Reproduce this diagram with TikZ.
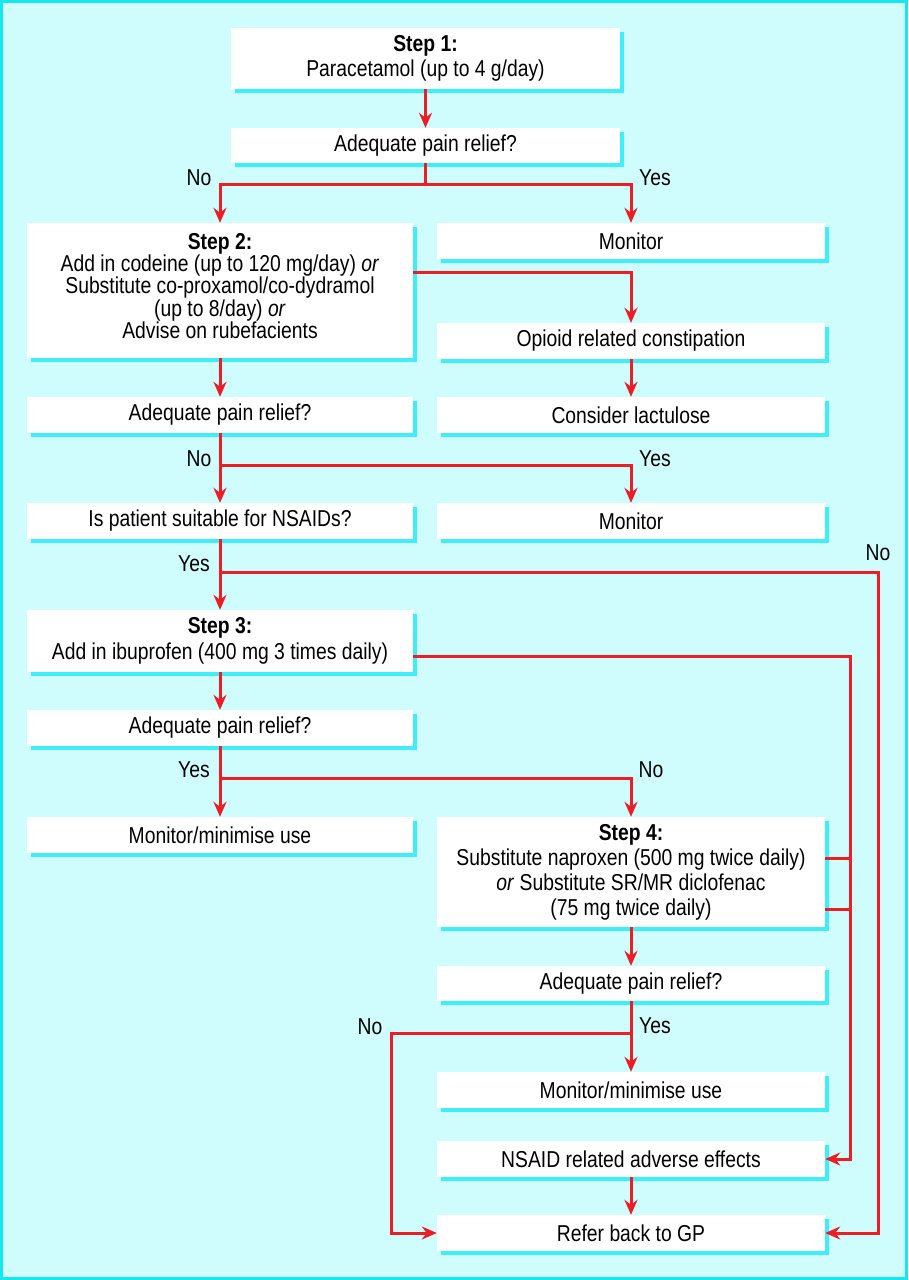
\documentclass[tikz,border=0pt]{standalone}
\usepackage{fontspec}
\setmainfont{Liberation Sans}[FakeStretch=0.84]
\usetikzlibrary{arrows.meta,shadows,calc}
\definecolor{bgc}{HTML}{CFFCFC}
\definecolor{bordc}{HTML}{18E6F0}
\definecolor{shc}{HTML}{40EEF8}
\definecolor{redc}{HTML}{EE1C24}
\tikzset{
  box/.style={fill=white, inner sep=0pt, align=center, minimum width=388pt, minimum height=36pt,
    font=\fontsize{23}{23.5}\selectfont,
    drop shadow={shadow xshift=4pt, shadow yshift=-4pt, fill=shc, opacity=1}},
  conn/.style={draw=redc, line width=3pt},
  arr/.style={conn, -{Stealth[length=15pt,width=13pt,inset=5pt]}},
  lbl/.style={font=\fontsize{23}{23.5}\selectfont, inner sep=0pt},
  txt/.style={font=\fontsize{23}{22.3}\selectfont, inner sep=0pt, align=center}
}
\begin{document}
\begin{tikzpicture}[x=1pt,y=-1pt]
\useasboundingbox (0,0) rectangle (908,1280);
\fill[bgc] (0,0) rectangle (908,1280);
\draw[bordc, line width=3pt] (1.5,1.5) rectangle (906.5,1278.5);

% left column boxes
\node[box, minimum width=389pt, minimum height=61pt, font=\fontsize{23}{25.5}\selectfont] (s1) at (425.5,58.5) {\textbf{Step 1:}\\Paracetamol (up to 4 g/day)};
\node[box, minimum width=389pt, minimum height=35pt] (a1) at (425.5,145.5) {Adequate pain relief?};
\node[box, minimum width=386pt, minimum height=135pt] (s2) at (220,290.5) {};
\node[txt] (s2t) at (220,286) {\textbf{Step 2:}\\Add in codeine (up to 120 mg/day) \textit{or}\\Substitute co-proxamol/co-dydramol\\(up to 8/day) \textit{or}\\Advise on rubefacients};
\node[box, minimum width=386pt] (a2) at (220,415) {Adequate pain relief?};
\node[box, minimum width=386pt] (ip) at (220,521) {Is patient suitable for NSAIDs?};
\node[box, minimum width=386pt, minimum height=62pt, font=\fontsize{23}{25.5}\selectfont] (s3) at (220,641) {\textbf{Step 3:}\\Add in ibuprofen (400 mg 3 times daily)};
\node[box, minimum width=386pt] (a3) at (220,728) {Adequate pain relief?};
\node[box, minimum width=386pt] (mm1) at (220,835) {Monitor/minimise use};

% right column boxes
\node[box] (m1) at (631,241) {Monitor};
\node[box] (op) at (631,341) {Opioid related constipation};
\node[box] (cl) at (631,415) {Consider lactulose};
\node[box] (m2) at (631,521) {Monitor};
\node[box, minimum height=110pt, font=\fontsize{23}{25}\selectfont] (s4) at (631,872) {\textbf{Step 4:}\\Substitute naproxen (500 mg twice daily)\\\textit{or} Substitute SR/MR diclofenac\\(75 mg twice daily)};
\node[box, minimum height=35pt] (a4) at (631,983.5) {Adequate pain relief?};
\node[box] (mm2) at (631,1090) {Monitor/minimise use};
\node[box] (ns) at (631,1159) {NSAID related adverse effects};
\node[box] (gp) at (631,1233) {Refer back to GP};

% junction coordinates
\coordinate (j1) at (425.5,184);
\coordinate (j2) at (220,465);
\coordinate (j3) at (220,572);
\coordinate (rc) at (878,572);
\coordinate (rc2) at (850,656);
\coordinate (j4) at (220,778);
\coordinate (j5) at (631,1033);
\coordinate (lc) at (391,1033);

% connectors
\draw[arr] (s1.south) -- (a1.north);
\draw[conn] (a1.south) -- (j1);
\draw[arr] (j1) -| (s2.north);
\draw[arr] (j1) -| (m1.north);
\draw[arr] ($(s2.east)+(0,-18.5)$) -| (op.north);
\draw[arr] (op.south) -- (cl.north);
\draw[arr] (s2.south) -- (a2.north);
\draw[arr] (a2.south) -- (ip.north);
\draw[arr] (j2) -| (m2.north);
\draw[arr] (ip.south) -- (s3.north);
\draw[arr] (j3) -- (rc) |- (gp.east);
\draw[arr] ($(s3.east)+(0,15)$) -- (rc2) |- (ns.east);
\draw[conn] ($(s4.east)+(0,-14)$) -- ++(25,0);
\draw[conn] ($(s4.east)+(0,37)$) -- ++(25,0);
\draw[arr] (s3.south) -- (a3.north);
\draw[arr] (a3.south) -- (mm1.north);
\draw[arr] (j4) -| (s4.north);
\draw[arr] (s4.south) -- (a4.north);
\draw[arr] (a4.south) -- (mm2.north);
\draw[arr] (j5) -- (lc) |- (gp.west);
\draw[arr] (ns.south) -- (gp.north);

% labels
\node[lbl] (l1) at (199,178) {No};
\node[lbl] (l2) at (655,178) {Yes};
\node[lbl] (l3) at (199,459) {No};
\node[lbl] (l4) at (655,459) {Yes};
\node[lbl] (l5) at (194,564) {Yes};
\node[lbl] (l6) at (878,553) {No};
\node[lbl] (l7) at (194,770) {Yes};
\node[lbl] (l8) at (651,770) {No};
\node[lbl] (l9) at (370,1027) {No};
\node[lbl] (l10) at (655,1026) {Yes};
\end{tikzpicture}
\end{document}
